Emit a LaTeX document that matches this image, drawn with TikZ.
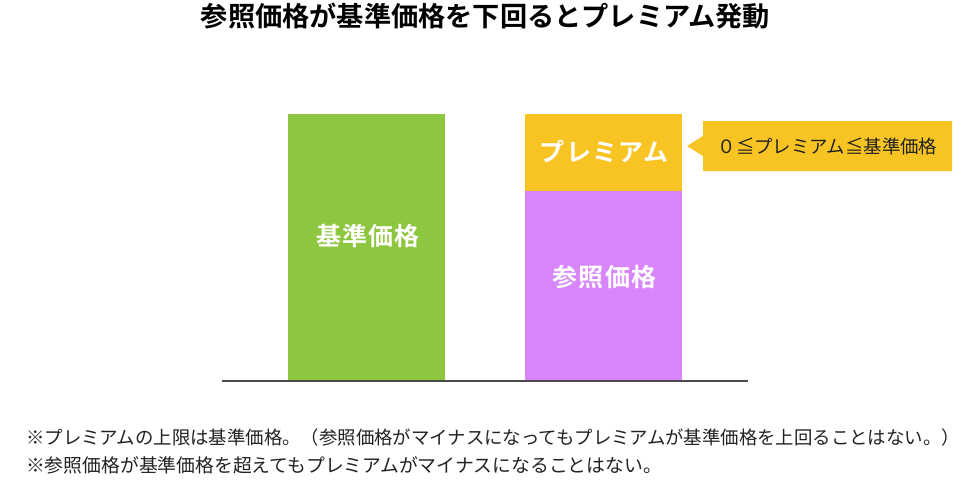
\documentclass[tikz,border=0pt]{standalone}
\usepackage{fontspec}
\setmainfont{Noto Sans CJK JP}
\newfontfamily\jpbold{Noto Sans CJK JP Bold}
\newfontfamily\jpboldsp[LetterSpace=5]{Noto Sans CJK JP Bold}
\definecolor{barGreen}{HTML}{8DC63F}
\definecolor{barPurple}{HTML}{D884FB}
\definecolor{barYellow}{HTML}{F7C423}
\definecolor{axisGray}{HTML}{4A4A4A}
\definecolor{noteText}{HTML}{222222}
\begin{document}
\begin{tikzpicture}[x=1pt,y=-1pt,
  barlabel/.style={text=white,anchor=base,inner sep=0pt,font=\jpboldsp\fontsize{25}{25}\selectfont},
  notetext/.style={text=noteText,anchor=base west,inner sep=0pt}]
\useasboundingbox (0,0) rectangle (974,488);
\fill[white] (0,0) rectangle (974,488);
% title
\node[anchor=base,inner sep=0pt,font=\jpbold\fontsize{27.2}{27.2}\selectfont] (title) at (485.5,26.5) {参照価格が基準価格を下回るとプレミアム発動};
% bars
\coordinate (gA) at (288,114); \coordinate (gB) at (445,381);
\coordinate (yA) at (525,114); \coordinate (yB) at (682,190.5);
\coordinate (pA) at (525,190.5); \coordinate (pB) at (682,381);
\fill[barGreen] (gA) rectangle (gB);
\fill[barYellow] (yA) rectangle (yB);
\fill[barPurple] (pA) rectangle (pB);
\node[barlabel] (kijun) at (368,245.5) {基準価格};
\node[barlabel] (sansho) at (604.5,286) {参照価格};
\node[barlabel] (premium) at (604,161.5) {プレミアム};
% axis
\coordinate (axL) at (222,381); \coordinate (axR) at (748,381);
\draw[axisGray,line width=1.3pt] (axL) -- (axR);
% callout
\fill[barYellow] (703,121) -- (952,121) -- (952,171) -- (703,171) -- (703,156) -- (687,146) -- (703,136) -- cycle;
\node[anchor=base,inner sep=0pt,text=noteText,font=\fontsize{18.4}{18.4}\selectfont] (callout) at (827.5,153) {０≦プレミアム≦基準価格};
% notes
\node[notetext,font=\fontsize{18.4}{18.4}\selectfont] (note1) at (26,444.8) {※プレミアムの上限は基準価格。（参照価格がマイナスになってもプレミアムが基準価格を上回ることはない。）};
\node[notetext,font=\fontsize{18.8}{18.8}\selectfont] (note2) at (26,472.8) {※参照価格が基準価格を超えてもプレミアムがマイナスになることはない。};
\end{tikzpicture}
\end{document}
